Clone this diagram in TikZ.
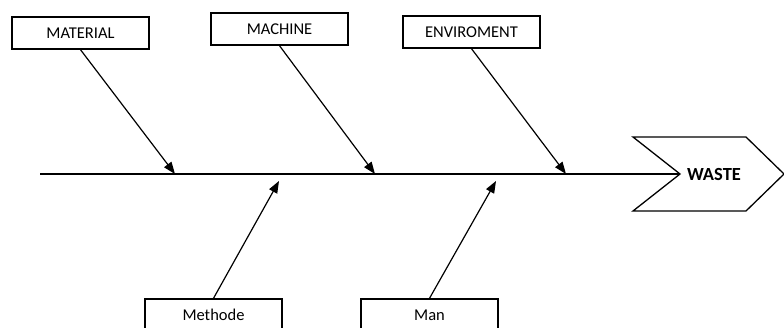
\documentclass[tikz,border=0pt]{standalone}
\usepackage{fontspec}
\setmainfont{Carlito}
\usetikzlibrary{arrows.meta,positioning}
\tikzset{cause/.style={rectangle, draw, line width=1.4pt, fill=white,
  minimum width=137pt, minimum height=32pt, inner sep=0pt,
  font=\fontsize{16.5}{19}\selectfont}}
\tikzset{bone/.style={draw, line width=1.2pt,
  -{Triangle[length=12pt,width=9pt]}}}
\tikzset{spine/.style={draw, line width=1.3pt}}

\begin{document}
\begin{tikzpicture}[x=1pt, y=-1pt]
    \useasboundingbox (0,0) rectangle (784,327);
    %%
    \node (mat) at (80.5,33) [cause] {MATERIAL};
    \node (mach) at (279.5,29) [cause] {MACHINE};
    \node (env) at (471.5,32) [cause] {ENVIROMENT};
    \node (meth) at (213.5,315) [cause] {Methode};
    \node (man) at (429.5,315) [cause] {Man};
    %%
    \coordinate (tail) at (40,174);
    \coordinate (notch) at (680,174);
    \coordinate (p1) at (175,174);
    \coordinate (p2) at (375,174);
    \coordinate (p3) at (566,174);
    \coordinate (q1) at (279,181);
    \coordinate (q2) at (496,181);
    %%
    \path[spine] (633,137) -- (746,137) -- (784,174) -- (746,211)
        -- (633,211) -- (notch) -- cycle;
    \node (waste) at (714,174) {\fontsize{18.5}{21}\selectfont\bfseries WASTE};
    \path[spine] (tail) -- (notch);
    %%
    \path[bone] (mat.south) -- (p1);
    \path[bone] (mach.south) -- (p2);
    \path[bone] (env.south) -- (p3);
    \path[bone] (meth.north) -- (q1);
    \path[bone] (man.north) -- (q2);
\end{tikzpicture}
\end{document}
